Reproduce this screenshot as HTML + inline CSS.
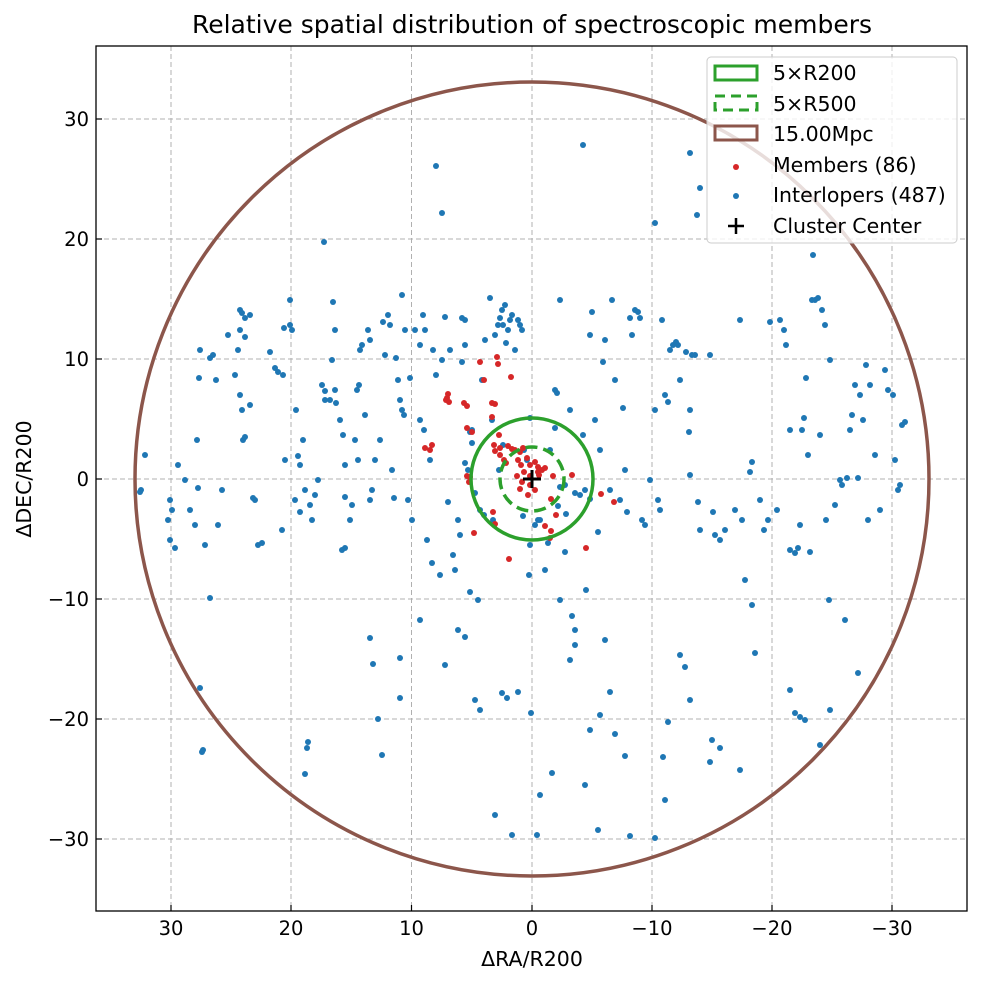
<!DOCTYPE html>
<html><head><meta charset="utf-8"><style>
body{margin:0;background:#fff;}
svg text{font-family:"DejaVu Sans","Liberation Sans",sans-serif;}
</style></head><body>
<svg id="s" width="982" height="984" xmlns="http://www.w3.org/2000/svg">
<rect width="982" height="984" fill="#fff"/>
<text x="532" y="33" font-size="25" text-anchor="middle" fill="#000" textLength="680" lengthAdjust="spacingAndGlyphs">Relative spatial distribution of spectroscopic members</text>
<g stroke="#b0b0b0" stroke-width="1" stroke-dasharray="5,3">
<line x1="171" y1="46" x2="171" y2="911"/><line x1="291" y1="46" x2="291" y2="911"/><line x1="411.5" y1="46" x2="411.5" y2="911"/><line x1="532" y1="46" x2="532" y2="911"/><line x1="652" y1="46" x2="652" y2="911"/><line x1="772" y1="46" x2="772" y2="911"/><line x1="892" y1="46" x2="892" y2="911"/>
<line x1="96" y1="119" x2="967" y2="119"/><line x1="96" y1="239" x2="967" y2="239"/><line x1="96" y1="359" x2="967" y2="359"/><line x1="96" y1="479" x2="967" y2="479"/><line x1="96" y1="599" x2="967" y2="599"/><line x1="96" y1="719" x2="967" y2="719"/><line x1="96" y1="839" x2="967" y2="839"/>
</g>
<g id="blue" fill="#1f77b4"></g>
<g id="red" fill="#d62728"></g>
<circle cx="532" cy="479" r="397" fill="none" stroke="#8c564b" stroke-width="3.5"/>
<circle cx="532" cy="479" r="61" fill="none" stroke="#2ca02c" stroke-width="3.5"/>
<circle cx="532" cy="479" r="32" fill="none" stroke="#2ca02c" stroke-width="3.5" stroke-dasharray="12,6"/>
<path d="M523 479H541M532 470V488" stroke="#000" stroke-width="3"/>
<rect x="96" y="46" width="871" height="865" fill="none" stroke="#000" stroke-width="1.3"/>
<g stroke="#000" stroke-width="1.2">
<line x1="171" y1="911" x2="171" y2="905"/><line x1="291" y1="911" x2="291" y2="905"/><line x1="411.5" y1="911" x2="411.5" y2="905"/><line x1="532" y1="911" x2="532" y2="905"/><line x1="652" y1="911" x2="652" y2="905"/><line x1="772" y1="911" x2="772" y2="905"/><line x1="892" y1="911" x2="892" y2="905"/>
<line x1="96" y1="119" x2="102" y2="119"/><line x1="96" y1="239" x2="102" y2="239"/><line x1="96" y1="359" x2="102" y2="359"/><line x1="96" y1="479" x2="102" y2="479"/><line x1="96" y1="599" x2="102" y2="599"/><line x1="96" y1="719" x2="102" y2="719"/><line x1="96" y1="839" x2="102" y2="839"/>
</g>
<g font-size="19.5" text-anchor="middle" fill="#000">
<text x="171" y="935">30</text><text x="291" y="935">20</text><text x="411.5" y="935">10</text><text x="532" y="935">0</text><text x="652" y="935">−10</text><text x="772" y="935">−20</text><text x="892" y="935">−30</text>
</g>
<g font-size="19.5" text-anchor="end" fill="#000">
<text x="89" y="126">30</text><text x="89" y="246">20</text><text x="89" y="366">10</text><text x="89" y="486">0</text><text x="89" y="606">−10</text><text x="89" y="726">−20</text><text x="89" y="846">−30</text>
</g>
<text x="532" y="966" font-size="20.5" text-anchor="middle">ΔRA/R200</text>
<text transform="translate(31,479) rotate(-90)" font-size="20.5" text-anchor="middle">ΔDEC/R200</text>
<rect x="707" y="57" width="250" height="186" rx="4" fill="#fff" fill-opacity="0.8" stroke="#ccc" stroke-width="1"/>
<rect x="715" y="66" width="42" height="14" fill="none" stroke="#2ca02c" stroke-width="3"/>
<rect x="715" y="96" width="42" height="14" fill="none" stroke="#2ca02c" stroke-width="3" stroke-dasharray="10,6"/>
<rect x="715" y="126" width="42" height="14" fill="none" stroke="#8c564b" stroke-width="3"/>
<circle cx="736" cy="167" r="3" fill="#d62728"/>
<circle cx="736" cy="196" r="3" fill="#1f77b4"/>
<path d="M728 226H744M736 218V234" stroke="#000" stroke-width="2.5"/>
<g font-size="20.5" fill="#000">
<text x="773" y="80">5×R200</text><text x="773" y="111">5×R500</text><text x="773" y="141">15.00Mpc</text>
<text x="773" y="172">Members (86)</text><text x="773" y="202">Interlopers (487)</text><text x="773" y="233">Cluster Center</text>
</g>
</svg>
<script>
var B=[141,490,140,492,145,455,170,500,172,510,168,520,170,540,175,548,178,465,185,480,190,510,198,488,200,350,199,378,197,440,195,525,205,545,210,358,213,355,216,380,218,525,222,490,228,335,235,375,238,350,240,310,242,313,245,318,250,315,240,330,245,337,240,395,242,410,243,440,245,437,250,405,253,498,255,500,258,545,262,543,270,352,275,368,278,372,283,375,285,460,282,530,284,328,290,325,292,330,290,300,296,410,298,456,300,465,305,490,303,440,295,500,300,512,310,505,312,520,315,495,318,480,322,385,325,391,325,400,330,400,332,360,335,330,333,302,335,390,336,403,340,420,343,435,345,465,345,497,345,548,342,550,350,520,352,505,355,440,358,460,357,390,359,385,360,350,362,345,368,330,370,340,365,415,370,500,372,490,375,460,380,440,383,322,385,355,388,315,390,325,392,470,394,498,396,358,398,380,400,400,402,410,404,415,402,295,405,330,408,500,410,378,412,520,415,330,420,345,423,315,425,330,420,420,424,430,427,540,430,460,432,563,433,350,436,375,440,575,442,360,445,317,448,502,450,350,453,555,455,570,458,520,460,535,462,318,465,320,465,345,462,362,470,432,472,430,468,470,475,493,478,600,480,510,482,380,484,515,485,340,490,298,492,420,495,335,498,325,500,318,502,310,503,325,505,305,508,330,506,343,510,320,512,315,515,350,518,320,520,325,522,330,524,450,527,460,530,418,529,575,530,545,535,525,538,520,540,520,545,570,550,450,555,390,557,393,560,300,560,600,565,485,570,410,572,616,575,645,580,495,583,435,585,490,590,335,592,312,595,420,598,532,600,450,603,362,605,340,610,490,612,300,615,380,620,500,623,408,625,470,627,512,630,318,632,335,635,310,638,312,640,318,642,520,645,525,650,480,655,410,658,500,660,510,662,320,665,395,668,402,670,350,673,345,676,342,678,345,680,380,686,352,689,432,690,475,690,410,692,355,695,355,698,502,700,530,710,355,713,512,715,535,720,540,725,530,735,510,740,320,742,520,745,580,750,472,752,462,760,500,764,530,768,520,770,322,777,510,780,320,784,330,786,345,790,550,795,553,798,548,800,525,802,430,804,418,806,378,808,455,810,552,812,300,815,300,818,298,822,310,825,325,830,360,840,480,842,485,847,478,850,430,852,415,855,385,858,478,860,395,863,420,866,365,868,520,870,385,875,455,880,510,885,370,888,390,893,395,895,460,898,490,900,485,902,425,905,422,790,430,820,435,826,520,835,505,
324,242,436,166,442,213,583,145,690,153,697,215,700,188,813,255,655,223,
200,688,210,598,202,752,203,750,308,742,307,748,305,774,370,638,373,664,378,719,382,755,400,658,400,698,420,620,445,665,458,630,465,637,470,592,475,700,480,710,495,815,502,693,507,698,512,835,518,692,531,713,537,835,540,795,552,773,570,660,575,630,586,590,590,730,585,785,605,640,600,715,598,830,610,692,615,734,625,756,630,836,655,838,665,800,663,757,668,722,680,655,685,667,690,700,710,762,712,740,740,770,752,605,755,653,790,690,795,713,800,717,805,720,820,745,829,600,845,620,830,710,858,673,720,748,
555,428,560,487,575,493,590,499,566,514,558,506,523,516,565,552,548,543,493,520,503,445,499,470,472,443,465,463];
var R=[497,357,498,364,511,377,446,400,449,402,448,394,492,403,495,404,492,417,425,448,430,450,432,445,472,432,499,435,500,448,494,445,495,451,500,455,508,446,512,449,504,460,506,463,515,450,520,452,523,448,518,460,521,465,527,458,530,465,535,462,538,467,542,470,545,468,539,475,530,476,524,472,517,476,522,482,530,485,535,490,528,495,520,489,538,472,553,476,572,475,467,476,470,477,469,482,551,499,556,515,601,494,614,502,493,512,495,524,474,533,551,531,550,538,586,548,509,559,545,526,480,362,484,380,447,398,464,403,467,428,467,406];
function put(a,id){var g=document.getElementById(id),h='';for(var i=0;i<a.length;i+=2)h+='<circle cx="'+a[i]+'" cy="'+a[i+1]+'" r="3"/>';g.innerHTML=h;}
put(B,'blue');put(R,'red');
</script>
</body></html>
